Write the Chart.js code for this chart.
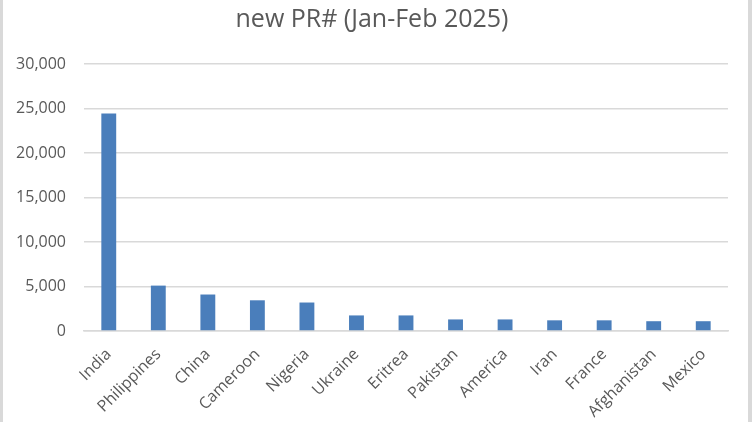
<!DOCTYPE html>
<html>
<head>
<meta charset="utf-8">
<script src="https://cdn.jsdelivr.net/npm/chart.js@4"></script>
<style>
  html, body { margin: 0; padding: 0; background: #fff; }
  #wrap {
    width: 752px; height: 422px; box-sizing: border-box;
    border-left: 3px solid #d9d9d9; border-right: 4px solid #d9d9d9;
  }
  #prChart { display: block; }
</style>
</head>
<body>
<div id="wrap"><canvas id="prChart" width="745" height="422"></canvas></div>
<script>
// values
const countries = ['India', 'Philippines', 'China', 'Cameroon', 'Nigeria', 'Ukraine', 'Eritrea',
  'Pakistan', 'America', 'Iran', 'France', 'Afghanistan', 'Mexico'];
const newPR = [24450, 5100, 4100, 3450, 3200, 1750, 1750, 1300, 1300, 1200, 1200, 1100, 1100];
const yTicks = [0, 5000, 10000, 15000, 20000, 25000, 30000];

const textColor = '#595959';
const gridColor = '#d9d9d9';

Chart.defaults.font.family = "'Open Sans', sans-serif";
Chart.defaults.color = textColor;

new Chart(document.getElementById('prChart'), {
  type: 'bar',
  data: {
    labels: countries,
    datasets: [{
      label: 'new PR#',
      data: newPR,
      backgroundColor: '#4a7ebb',
      categoryPercentage: 1,
      barPercentage: 0.3
    }]
  },
  options: {
    responsive: false,
    animation: false,
    layout: { padding: { left: 13, right: 20, top: 0, bottom: 0 } },
    plugins: {
      legend: { display: false },
      tooltip: { enabled: false },
      title: {
        display: true,
        text: 'new PR# (Jan-Feb 2025)',
        color: textColor,
        font: { size: 25, weight: 'normal' },
        padding: { top: 5, bottom: 29 }
      }
    },
    scales: {
      x: {
        grid: { display: false },
        border: { color: gridColor, width: 1.5 },
        ticks: {
          color: textColor,
          font: { size: 16 },
          minRotation: 45,
          maxRotation: 45,
          padding: 6
        },
        afterFit: (scale) => { scale.height = 91; }
      },
      y: {
        min: 0,
        max: 30000,
        afterBuildTicks: (scale) => { scale.ticks = yTicks.map(v => ({ value: v })); },
        grid: { color: gridColor, lineWidth: 1.5, drawTicks: false },
        border: { display: false },
        ticks: {
          color: textColor,
          font: { size: 16 },
          padding: 18,
          callback: (v) => v.toLocaleString('en-US')
        },
        afterFit: (scale) => { scale.width = 68; }
      }
    }
  }
});
</script>
</body>
</html>
